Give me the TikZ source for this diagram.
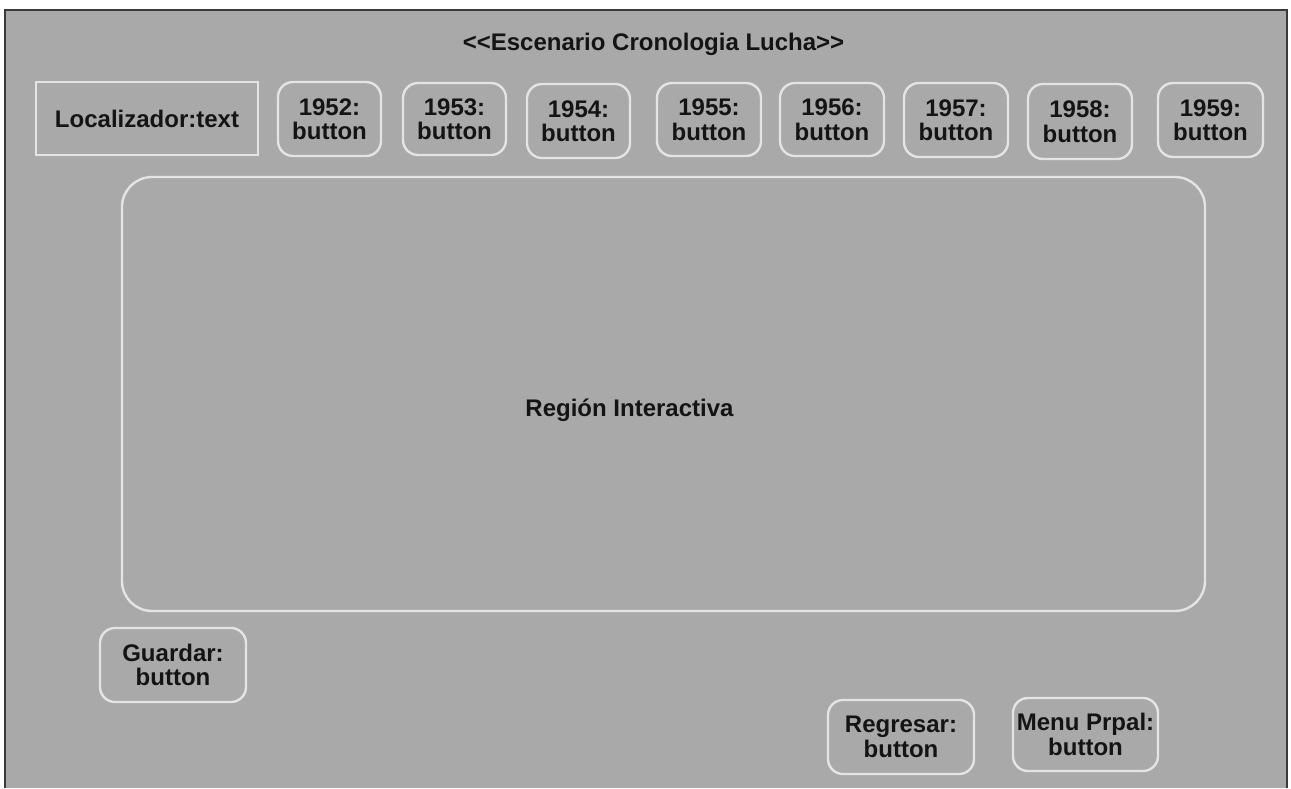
\documentclass[tikz,border=0pt]{standalone}
\usepackage{fontspec}
\setmainfont{Liberation Sans}
\definecolor{panel}{HTML}{A9A9A9}
\definecolor{edge}{HTML}{E4E4E4}
\definecolor{frameline}{HTML}{3A3A3A}
\definecolor{ink}{HTML}{141414}
\tikzset{
  uitext/.style={text=ink, font=\bfseries\fontsize{24}{24.5}\selectfont, align=center, inner sep=0pt},
  textbox/.style={uitext, draw=edge, line width=2.4pt},
  btn/.style={uitext, draw=edge, line width=2.4pt, rounded corners=15pt},
  region/.style={draw=edge, line width=2.4pt, rounded corners=30pt, inner sep=0pt}
}
\begin{document}
\begin{tikzpicture}[x=1pt,y=-1pt]
  \useasboundingbox (0,0) rectangle (1291,788);
  % screen background and window frame
  \fill[white] (0,0) rectangle (1291,788);
  \fill[panel] (5,10) rectangle (1287,788);
  \draw[frameline, line width=2pt] (5,788) -- (5,10) -- (1287,10) -- (1287,788);

  % title (kerns keep the angle brackets from turning into guillemets)
  \node[uitext] (title) at (653.5,44) {<\kern0pt<Escenario Cronologia Lucha>\kern0pt>};

  % top row
  \node[textbox, minimum width=222pt, minimum height=73pt] (loc) at (147,118.5) {Localizador:text};
  \node[btn, minimum width=103pt, minimum height=74pt] (y1952) at (329.5,119) {1952:\\button};
  \node[btn, minimum width=103pt, minimum height=72pt] (y1953) at (454.5,119) {1953:\\button};
  \node[btn, minimum width=103pt, minimum height=74pt] (y1954) at (578.5,121) {1954:\\button};
  \node[btn, minimum width=104pt, minimum height=73pt] (y1955) at (709,119.5) {1955:\\button};
  \node[btn, minimum width=104pt, minimum height=73pt] (y1956) at (832,119.5) {1956:\\button};
  \node[btn, minimum width=104pt, minimum height=74pt] (y1957) at (956,120) {1957:\\button};
  \node[btn, minimum width=104pt, minimum height=75pt] (y1958) at (1080,121.5) {1958:\\button};
  \node[btn, minimum width=105pt, minimum height=74pt] (y1959) at (1210.5,120) {1959:\\button};

  % interactive area
  \node[region, minimum width=1083pt, minimum height=434pt] (area) at (663.5,394) {};
  \node[uitext] (arealabel) at (629.5,410) {Región Interactiva};

  % bottom buttons
  \node[btn, minimum width=146pt, minimum height=74pt] (save) at (173,665) {Guardar:\\button};
  \node[btn, minimum width=146pt, minimum height=74pt] (back) at (901,737) {Regresar:\\button};
  \node[btn, minimum width=145pt, minimum height=73pt] (menu) at (1085.5,734.5) {Menu Prpal:\\button};
\end{tikzpicture}
\end{document}
